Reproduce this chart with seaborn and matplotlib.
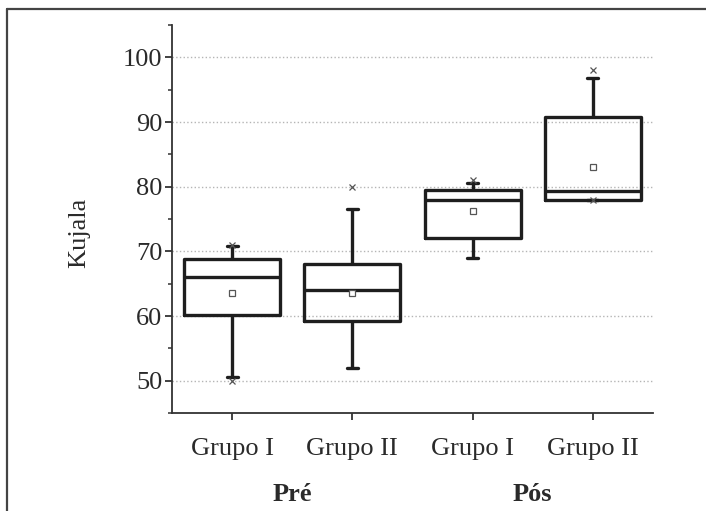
import numpy as np
import pandas as pd
import seaborn as sns
import matplotlib
matplotlib.use('Agg')
import matplotlib.pyplot as plt
from matplotlib.lines import Line2D
from matplotlib.ticker import MultipleLocator

# Kujala scores, one list per box (sorted, 21 values each)
pre_grupo_1 = [50.0, 50.5, 52.0, 54.5, 58.9, 60.2, 61.0, 62.5, 64.0, 65.0, 66.0,
               66.5, 67.0, 67.5, 68.0, 68.8, 69.2, 69.8, 70.3, 70.8, 71.0]
pre_grupo_2 = [52.0, 52.0, 52.5, 53.5, 55.0, 59.2, 59.5, 60.0, 61.0, 62.5, 64.0,
               65.0, 66.0, 66.5, 67.5, 68.0, 69.0, 70.8, 73.0, 76.5, 80.0]
pos_grupo_1 = [69.0, 69.0, 70.0, 70.5, 71.5, 72.0, 74.5, 76.5, 77.5, 77.5, 78.0,
               78.3, 78.6, 79.0, 79.2, 79.5, 79.8, 80.0, 80.3, 80.6, 81.0]
pos_grupo_2 = [77.9, 78.0, 78.0, 78.0, 78.0, 78.0, 78.2, 78.5, 78.8, 79.1, 79.4,
               79.6, 79.9, 80.4, 81.0, 90.8, 91.2, 92.0, 93.5, 96.8, 98.0]

caixas = ['Pré Grupo I', 'Pré Grupo II', 'Pós Grupo I', 'Pós Grupo II']
rotulos_x = ['Grupo I', 'Grupo II', 'Grupo I', 'Grupo II']
periodos = ['Pré', 'Pós']
yticks = [50, 60, 70, 80, 90, 100]

valori = [pre_grupo_1, pre_grupo_2, pos_grupo_1, pos_grupo_2]
df = pd.DataFrame({
    'caixa': np.repeat(caixas, [len(v) for v in valori]),
    'Kujala': np.concatenate(valori),
})

sns.set_style('ticks')
plt.rcParams['font.family'] = ['Liberation Serif', 'DejaVu Serif']

fig = plt.figure(figsize=(7.06, 5.11), dpi=100)
ax = fig.add_axes([0.2436, 0.1918, 0.6813, 0.7592])

cor = '#1e1e1e'
sns.boxplot(data=df, x='caixa', y='Kujala', order=caixas, ax=ax,
            fill=False, color=cor, width=0.8, linewidth=2.4,
            whis=(5, 95), showmeans=True, capwidths=0.09,
            meanprops=dict(marker='s', markerfacecolor='white', markeredgecolor='#555555',
                           markersize=4.5, markeredgewidth=0.9),
            flierprops=dict(marker='x', markersize=4, markeredgecolor='#555555',
                            markeredgewidth=0.9))

ax.set_xlim(-0.5, 3.5)
ax.set_ylim(45, 105)
ax.set_yticks(yticks)
ax.yaxis.set_minor_locator(MultipleLocator(5))
ax.set_xticks(range(len(caixas)))
ax.set_xticklabels(rotulos_x)
ax.tick_params(axis='both', which='major', labelsize=19, length=5, width=1.3,
               direction='out', color='#333333', labelcolor='#2a2a2a')
ax.tick_params(axis='y', which='major', pad=2)
ax.tick_params(axis='x', which='major', pad=13)
ax.tick_params(axis='y', which='minor', length=3, width=1.1, color='#333333')
ax.yaxis.grid(True, linestyle=':', color='#b5b5b5', linewidth=1.0)
ax.set_axisbelow(True)

for lato in ['top', 'right']:
    ax.spines[lato].set_visible(False)
for lato in ['left', 'bottom']:
    ax.spines[lato].set_linewidth(1.3)
    ax.spines[lato].set_color('#333333')

ax.set_xlabel('')
ax.set_ylabel('Kujala', fontsize=19, color='#2a2a2a')
ax.yaxis.set_label_coords(-0.17, 0.465)

for i, periodo in enumerate(periodos):
    ax.text(0.5 + 2 * i, -0.21, periodo, transform=ax.get_xaxis_transform(),
            ha='center', va='center', fontsize=19, fontweight='bold', color='#2a2a2a')

# cornice grigia (solo lato superiore e sinistro)
fig.add_artist(Line2D([7 / 706, 1], [1 - 9 / 511] * 2, color='#444444', lw=1.6))
fig.add_artist(Line2D([7 / 706] * 2, [0, 1 - 9 / 511], color='#444444', lw=1.6))

plt.savefig('out.png', dpi=100)
